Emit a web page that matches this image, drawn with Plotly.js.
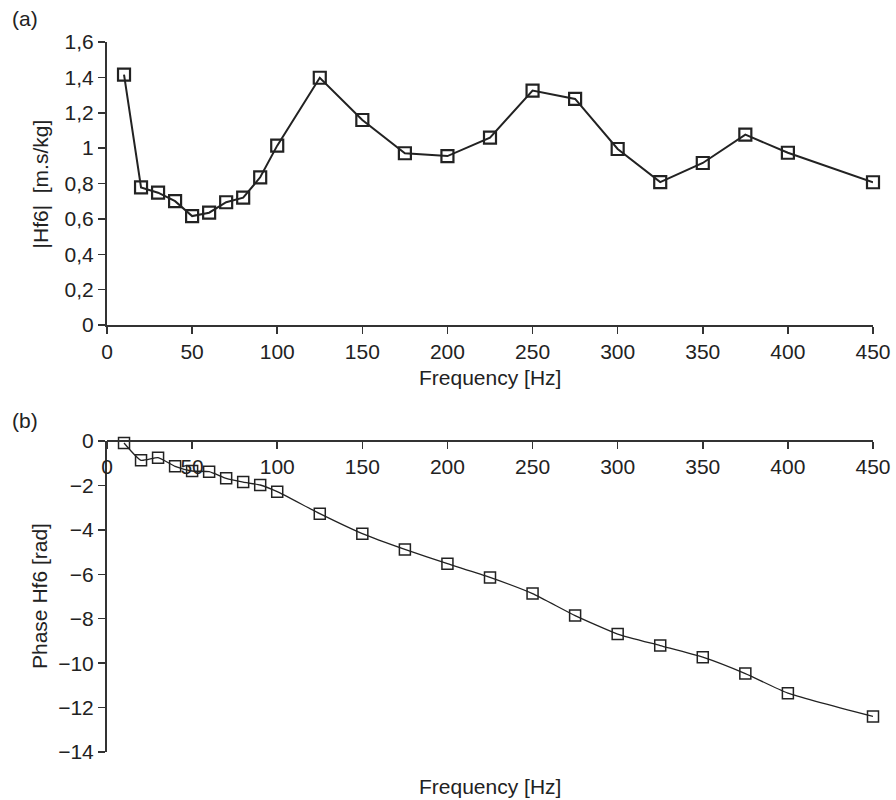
<!DOCTYPE html>
<html>
<head>
<meta charset="utf-8">
<script src="https://cdn.plot.ly/plotly-3.0.1.min.js"></script>
<style>html,body{margin:0;padding:0;background:#fff;}</style>
</head>
<body>
<div id="chart" style="width:896px;height:800px;"></div>
<script>
const freq = [10, 20, 30, 40, 50, 60, 70, 80, 90, 100, 125, 150, 175, 200, 225, 250, 275, 300, 325, 350, 375, 400, 450];
const magnitude = [1.415, 0.778, 0.748, 0.70, 0.616, 0.635, 0.694, 0.72, 0.835, 1.014, 1.398, 1.159, 0.971, 0.955, 1.059, 1.325, 1.278, 0.995, 0.808, 0.916, 1.076, 0.974, 0.807];
const phase = [-0.09, -0.87, -0.75, -1.14, -1.35, -1.38, -1.68, -1.85, -1.98, -2.28, -3.27, -4.17, -4.88, -5.52, -6.14, -6.87, -7.86, -8.69, -9.21, -9.73, -10.47, -11.35, -12.40];
const magTickVals = [0, 0.2, 0.4, 0.6, 0.8, 1, 1.2, 1.4, 1.6];
const magTickText = ["0", "0,2", "0,4", "0,6", "0,8", "1", "1,2", "1,4", "1,6"];
const phaseTickVals = [0, -2, -4, -6, -8, -10, -12, -14];
const phaseTickText = ["0", "\u22122", "\u22124", "\u22126", "\u22128", "\u221210", "\u221212", "\u221214"];
const freqTicks = [0, 50, 100, 150, 200, 250, 300, 350, 400, 450];

const ink = '#222';
const font = {family: 'Liberation Sans, Arial, sans-serif', size: 21, color: ink};

const traces = [
  {
    x: freq, y: magnitude, xaxis: 'x', yaxis: 'y', type: 'scatter', mode: 'lines+markers',
    line: {color: ink, width: 2},
    marker: {symbol: 'square-open', size: 12, color: ink, line: {width: 2.2, color: ink}},
    showlegend: false, cliponaxis: false
  },
  {
    x: freq, y: phase, xaxis: 'x2', yaxis: 'y2', type: 'scatter', mode: 'lines+markers',
    line: {color: ink, width: 1.3, shape: 'spline', smoothing: 0.5},
    marker: {symbol: 'square-open', size: 11, color: ink, line: {width: 1.5, color: ink}},
    showlegend: false, cliponaxis: false
  }
];

const axisCommon = {
  showgrid: false, zeroline: false, showline: true, linecolor: '#333', linewidth: 2,
  ticks: 'outside', ticklen: 7, tickwidth: 1.5, tickcolor: '#333', tickfont: font
};

const layout = {
  width: 896, height: 800,
  margin: {l: 107, r: 23, t: 42, b: 48},
  paper_bgcolor: '#fff', plot_bgcolor: '#fff',
  font: font,
  xaxis: Object.assign({}, axisCommon, {
    domain: [0, 1], anchor: 'y', range: [0, 450], tickvals: freqTicks
  }),
  yaxis: Object.assign({}, axisCommon, {
    domain: [0.6014, 1], anchor: 'x', range: [0, 1.6],
    tickvals: magTickVals, ticktext: magTickText
  }),
  xaxis2: Object.assign({}, axisCommon, {
    domain: [0, 1], anchor: 'free', position: 0.438, side: 'bottom', range: [0, 450], tickvals: freqTicks
  }),
  yaxis2: Object.assign({}, axisCommon, {
    domain: [0, 0.438], anchor: 'x2', range: [-14, 0],
    tickvals: phaseTickVals, ticktext: phaseTickText
  }),
  annotations: [
    {text: '(a)', xref: 'paper', yref: 'paper', x: -0.1266, y: 1.0338, xanchor: 'left', yanchor: 'middle', showarrow: false, font: font},
    {text: '(b)', xref: 'paper', yref: 'paper', x: -0.1266, y: 0.4662, xanchor: 'left', yanchor: 'middle', showarrow: false, font: font},
    {text: 'Frequency [Hz]', xref: 'paper', yref: 'paper', x: 0.5, y: 0.5268, xanchor: 'center', yanchor: 'middle', showarrow: false, font: font},
    {text: 'Frequency [Hz]', xref: 'paper', yref: 'paper', x: 0.5, y: -0.0479, xanchor: 'center', yanchor: 'middle', showarrow: false, font: font},
    {text: '|Hf6|  [m.s/kg]', xref: 'paper', yref: 'paper', x: -0.0862, y: 0.8007, xanchor: 'center', yanchor: 'middle', textangle: -90, showarrow: false, font: font},
    {text: 'Phase Hf6 [rad]', xref: 'paper', yref: 'paper', x: -0.0888, y: 0.2197, xanchor: 'center', yanchor: 'middle', textangle: -90, showarrow: false, font: font}
  ]
};

Plotly.newPlot('chart', traces, layout, {displayModeBar: false, staticPlot: true});
</script>
</body>
</html>
